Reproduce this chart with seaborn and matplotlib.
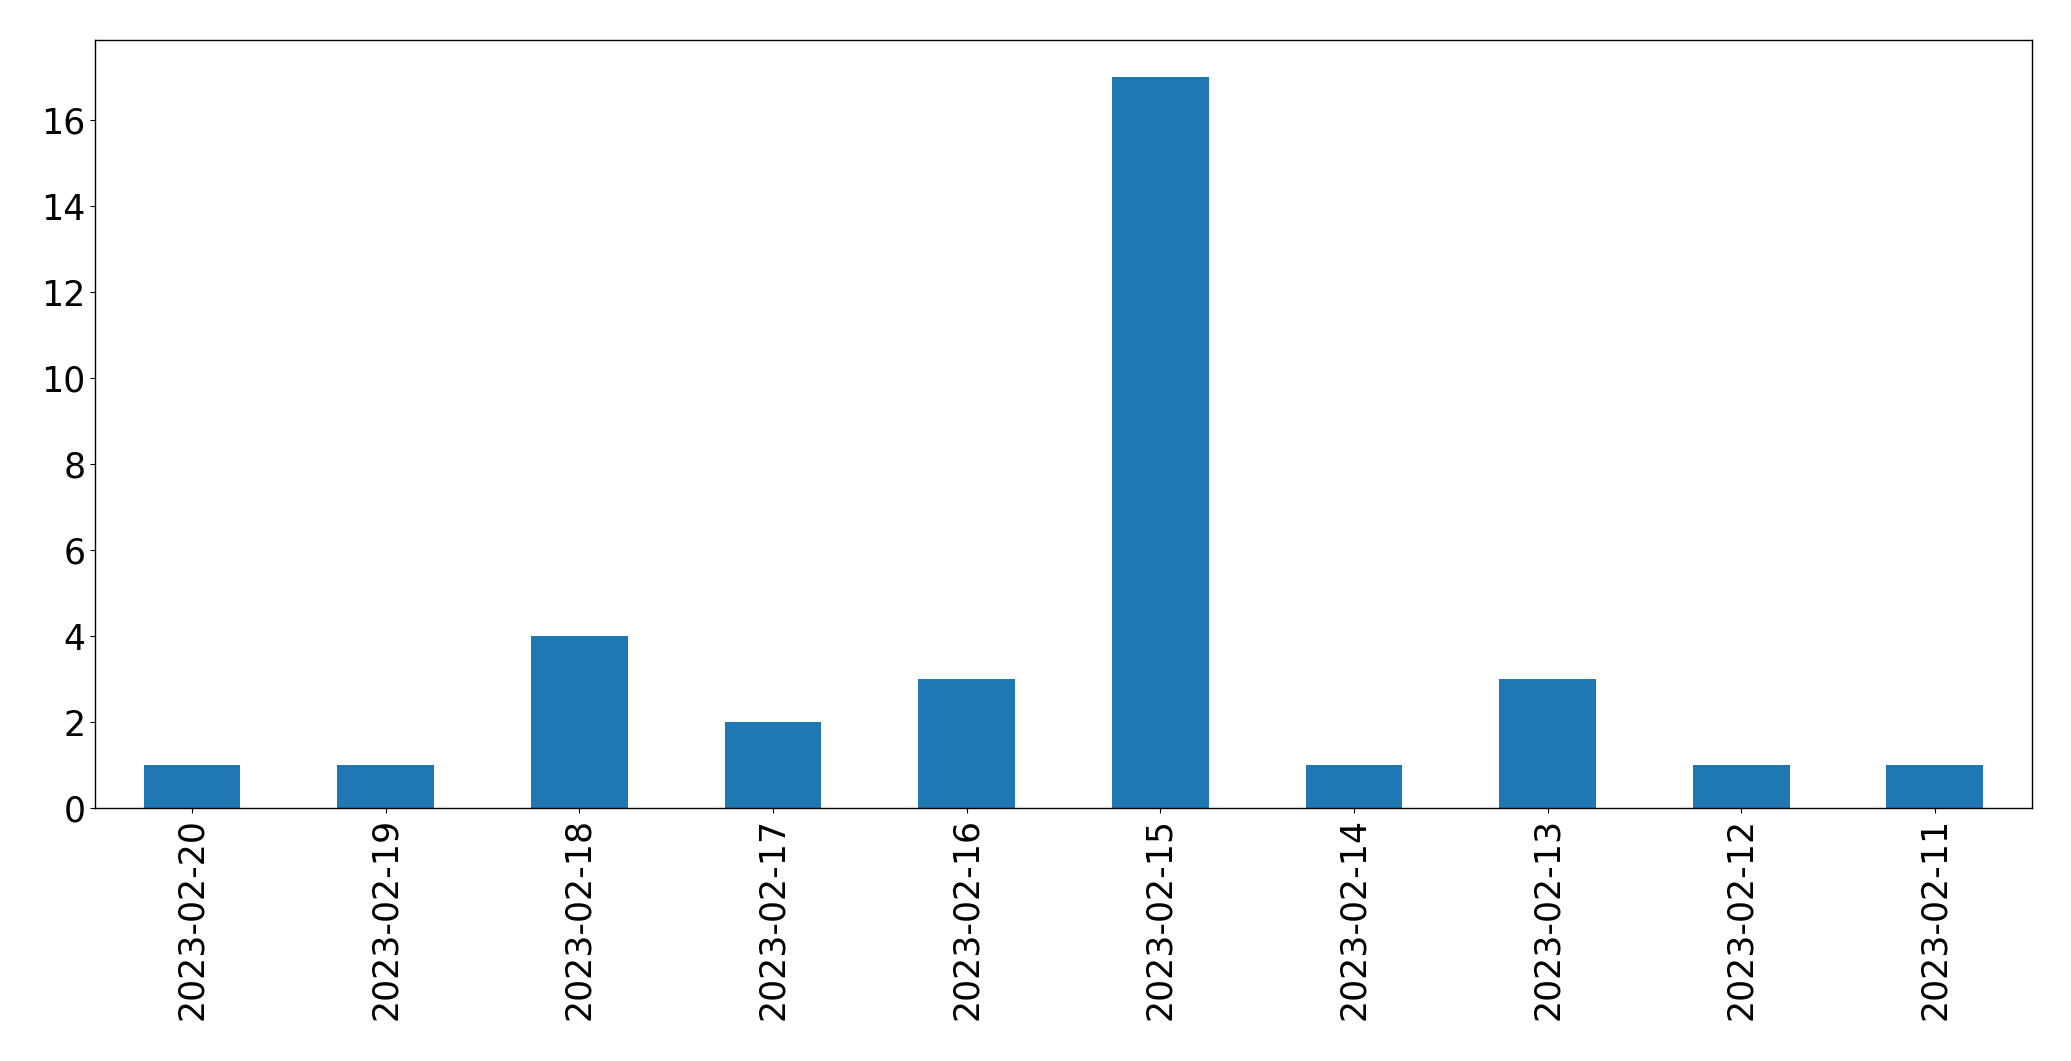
import pandas as pd
import matplotlib
matplotlib.use("Agg")
import matplotlib.pyplot as plt
import seaborn as sns

# daily counts, newest first
dates = ["2023-02-20", "2023-02-19", "2023-02-18", "2023-02-17", "2023-02-16",
         "2023-02-15", "2023-02-14", "2023-02-13", "2023-02-12", "2023-02-11"]
counts = [1, 1, 4, 2, 3, 17, 1, 3, 1, 1]

df = pd.DataFrame({"date": dates, "count": counts})

fig, ax = plt.subplots(figsize=(20.71, 10.61), dpi=100)
sns.barplot(x="date", y="count", data=df, color="#1f77b4", saturation=1,
            width=0.5, ax=ax, order=dates)
ax.set_xlabel("")
ax.set_ylabel("")
ax.set_ylim(0, 17.85)
ax.set_xlim(-0.5, len(dates) - 0.5)
ax.tick_params(axis="both", labelsize=25)
plt.setp(ax.get_xticklabels(), rotation=90)
for s in ax.spines.values():
    s.set_color("black")
    s.set_linewidth(1.0)

fig.subplots_adjust(left=0.046, right=0.981, top=0.962, bottom=0.238)
fig.savefig("out.png", dpi=100)
